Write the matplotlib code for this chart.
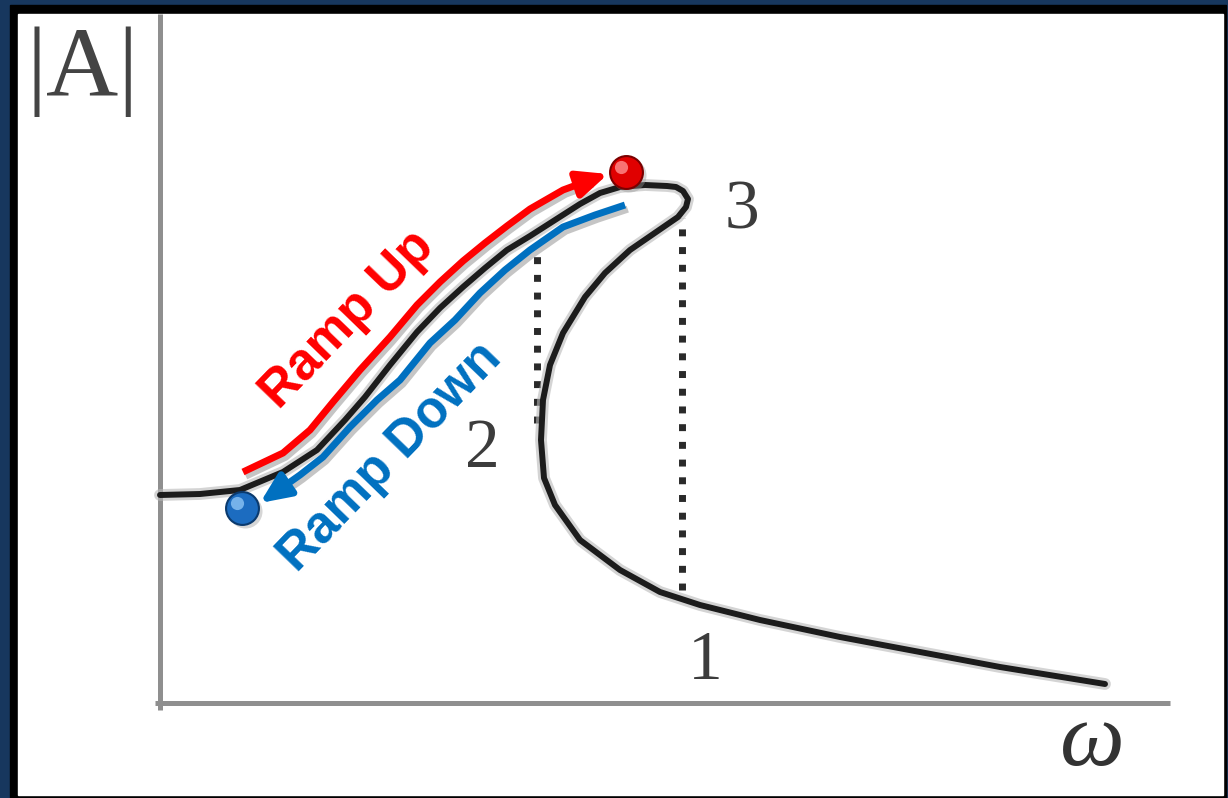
"""
Hysteresis sketch: |A| vs omega for a Duffing-type response, with ramp-up / ramp-down paths.
"""
import numpy as np
import matplotlib
matplotlib.use("Agg")
import matplotlib.pyplot as plt
import matplotlib.patheffects as pe
from matplotlib.patches import Rectangle

# response curve (omega, |A|)
curve_w = [0.00, 0.40, 0.80, 1.23, 1.57, 1.85, 2.05, 2.30, 2.57, 2.80, 3.03, 3.25, 3.47,
           3.70, 3.95, 4.20, 4.40, 4.60, 4.85, 5.07, 5.16, 5.23, 5.28, 5.26, 5.18, 5.02,
           4.70, 4.45, 4.25, 4.03, 3.90, 3.83, 3.81, 3.84, 3.95, 4.20, 4.60, 5.00, 5.40,
           6.00, 6.80, 7.60, 8.40, 9.45]
curve_a = [2.08, 2.09, 2.13, 2.31, 2.53, 2.83, 3.06, 3.38, 3.71, 3.95, 4.16, 4.35, 4.53,
           4.67, 4.83, 4.99, 5.10, 5.16, 5.18, 5.17, 5.16, 5.12, 5.04, 4.96, 4.86, 4.75,
           4.53, 4.30, 4.06, 3.70, 3.38, 3.03, 2.63, 2.25, 1.98, 1.63, 1.33, 1.11, 0.98,
           0.83, 0.66, 0.51, 0.36, 0.19]

# ramp up path (red), ends in arrow tip
up_w = [0.83, 1.23, 1.50, 1.73, 2.00, 2.30, 2.57, 2.80, 3.03, 3.25, 3.47, 3.70, 4.03, 4.30, 4.48]
up_a = [2.31, 2.50, 2.73, 3.01, 3.33, 3.66, 3.98, 4.21, 4.42, 4.60, 4.77, 4.94, 5.13, 5.23, 5.29]

# ramp down path (blue), ends in arrow tip
down_w = [4.65, 4.35, 4.03, 3.70, 3.45, 3.20, 2.95, 2.70, 2.40, 2.17, 1.90, 1.63, 1.40, 1.23, 1.00]
down_a = [4.98, 4.88, 4.76, 4.53, 4.33, 4.10, 3.83, 3.60, 3.23, 3.03, 2.76, 2.46, 2.28, 2.16, 2.00]

# jump lines (omega, A_low, A_high)
jump_w = [3.77, 5.22]
jump_lo = [2.80, 1.13]
jump_hi = [4.50, 4.85]

# end-point balls
ball_w = [4.66, 0.82]
ball_a = [5.31, 1.95]
ball_col = ["#e00000", "#1c6cc0"]
ball_edge = ["#7a0000", "#0a3a6e"]
ball_hi = ["#ff9090", "#8cc4f5"]

# branch labels
branch_lbl = ["1", "2", "3"]
branch_w = [5.45, 3.22, 5.82]
branch_a = [0.41, 2.53, 4.91]

RED, BLUE = "#ff0000", "#0070c0"

fig = plt.figure(figsize=(12.28, 7.98), dpi=100)
fig.patch.set_facecolor("#17375e")
fig.patches.append(Rectangle((10 / 1228, 0), 1216 / 1228, 793 / 798,
                             transform=fig.transFigure, color="black", zorder=-2))
fig.patches.append(Rectangle((18 / 1228, 3 / 798), 1205 / 1228, 781 / 798,
                             transform=fig.transFigure, color="white", zorder=-1))

ax = fig.add_axes([0, 0, 1, 1])
ax.set_zorder(5)
ax.set_facecolor("none")
ax.set_xlim(-1.60, 10.68)
ax.set_ylim(-0.95, 7.03)
ax.axis("off")

# axes lines
ax.plot([0, 0], [-0.07, 6.89], color="#8f8f8f", lw=3.6, solid_capstyle="butt")
ax.plot([-0.05, 10.10], [0, 0], color="#8f8f8f", lw=3.6, solid_capstyle="butt")

# jump (dotted) lines
for w, lo, hi in zip(jump_w, jump_lo, jump_hi):
    ax.plot([w, w], [lo, hi], color="#2a2a2a", lw=5,
            linestyle=(0, (1, 1.55)), dash_capstyle="butt")

# response curve with soft halo
ax.plot(curve_w, curve_a, color="#b8b8b8", lw=8.5, alpha=0.6, solid_joinstyle="round",
        solid_capstyle="round")
ax.plot(curve_w, curve_a, color="#1c1c1c", lw=4.3, solid_joinstyle="round",
        solid_capstyle="round")

shadow = [pe.SimpleLineShadow(offset=(2, -3), shadow_color="#808080", alpha=0.45),
          pe.Normal()]

for xs, ys, col in [(up_w, up_a, RED), (down_w, down_a, BLUE)]:
    ax.plot(xs[:-1], ys[:-1], color=col, lw=5, solid_capstyle="butt",
            solid_joinstyle="round", path_effects=shadow)
    ax.annotate("", xy=(xs[-1], ys[-1]), xytext=(xs[-2], ys[-2]),
                arrowprops=dict(arrowstyle="-|>,head_length=1.8,head_width=0.8",
                                color=col, lw=5, shrinkA=0, shrinkB=0))

# balls
for w, a, c, ec, hc in zip(ball_w, ball_a, ball_col, ball_edge, ball_hi):
    ax.scatter([w + 0.03], [a - 0.03], s=600, color="#999999", alpha=0.4, zorder=5,
               linewidths=0)
    ax.scatter([w], [a], s=560, color=c, edgecolors=ec, linewidths=1.5, zorder=6)
    ax.scatter([w - 0.05], [a + 0.05], s=90, color=hc, alpha=0.8, zorder=7,
               linewidths=0)

# ramp labels
ax.text(1.88, 3.83, "Ramp Up", color=RED, fontsize=37, fontweight="bold",
        family="Liberation Sans", rotation=46, rotation_mode="anchor",
        ha="center", va="center")
ax.text(2.30, 2.46, "Ramp Down", color=BLUE, fontsize=37, fontweight="bold",
        family="Liberation Sans", rotation=46, rotation_mode="anchor",
        ha="center", va="center")

for lbl, w, a in zip(branch_lbl, branch_w, branch_a):
    ax.text(w, a, lbl, color="#3c3c3c", fontsize=50, family="Liberation Serif",
            ha="center", va="center")

ax.text(-0.77, 6.31, "|A|", color="#444444", fontsize=72, family="Liberation Serif",
        ha="center", va="center")
ax.text(9.32, -0.40, "ω", color="#333333", fontsize=66, style="italic",
        family=["Liberation Serif", "DejaVu Serif"], ha="center", va="center")

fig.savefig("out.png", dpi=100, facecolor=fig.get_facecolor())
